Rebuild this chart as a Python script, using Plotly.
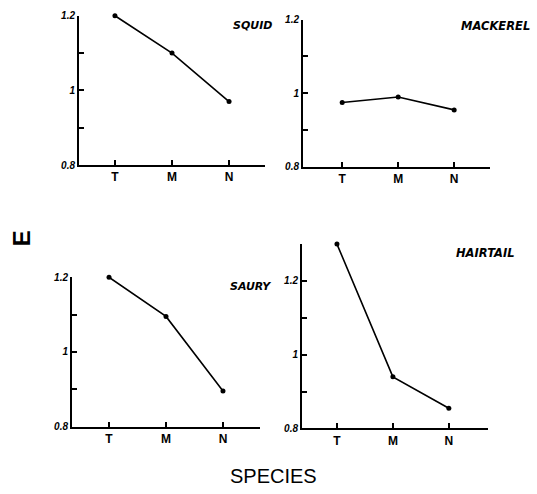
import plotly.graph_objects as go

# Relative values per fishing ground, four species
categories = ["T", "M", "N"]
squid = [1.20, 1.10, 0.97]
mackerel = [0.975, 0.99, 0.955]
saury = [1.20, 1.095, 0.895]
hairtail = [1.30, 0.94, 0.855]

species_names = ["SQUID", "MACKEREL", "SAURY", "HAIRTAIL"]
series = [squid, mackerel, saury, hairtail]

W, H = 537, 494

# panel geometry in pixels: (x_left, x_right, y_top, y_bottom, xrange, yrange)
panels = [
    (79, 265, 10, 163, [-0.63, 2.63], [0.8, 1.2]),
    (303, 490, 14, 165, [-0.70, 2.64], [0.8, 1.2]),
    (72, 260, 278, 431, [-0.65, 2.65], [0.8, 1.2]),
    (302, 488, 244, 433, [-0.625, 2.70], [0.8, 1.3]),
]

label_font = dict(family="Liberation Sans, Arial, sans-serif", color="black")
name_font = dict(family="DejaVu Sans, sans-serif", color="black")

fig = go.Figure()
layout = dict(
    width=W, height=H,
    margin=dict(l=0, r=0, t=0, b=0),
    paper_bgcolor="white", plot_bgcolor="white",
    showlegend=False,
)

for i, (vals, (xl, xr, yt, yb, xrng, yrng)) in enumerate(zip(series, panels), start=1):
    xs = "x" if i == 1 else f"x{i}"
    ys = "y" if i == 1 else f"y{i}"
    fig.add_trace(go.Scatter(
        x=list(range(len(categories))), y=vals, xaxis=xs, yaxis=ys,
        mode="lines+markers", cliponaxis=False,
        line=dict(color="black", width=1.6),
        marker=dict(color="black", size=5),
    ))
    ytv = [0.8, 0.9, 1.0, 1.1, 1.2]
    ytt = ["0.8", "", "1", "", "1.2"]
    if yrng[1] > 1.25:
        ytv.append(1.3)
        ytt.append("")
    layout["xaxis" if i == 1 else f"xaxis{i}"] = dict(
        domain=[xl / W, xr / W], anchor=ys, range=xrng,
        tickmode="array", tickvals=list(range(len(categories))), ticktext=categories,
        ticks="inside", ticklen=5, tickwidth=1.5, tickcolor="black",
        showline=True, linecolor="black", linewidth=2,
        showgrid=False, zeroline=False,
        tickfont=dict(size=12, weight="bold", **label_font),
    )
    layout["yaxis" if i == 1 else f"yaxis{i}"] = dict(
        domain=[1 - yb / H, 1 - yt / H], anchor=xs, range=yrng,
        tickmode="array", tickvals=ytv, ticktext=ytt,
        ticks="inside", ticklen=5, tickwidth=1.5, tickcolor="black",
        showline=True, linecolor="black", linewidth=2,
        showgrid=False, zeroline=False,
        tickfont=dict(size=10, weight="bold", style="italic", **label_font),
    )

fig.update_layout(**layout)

# species labels
name_pos = [(252, 20, 11), (495, 21, 11.5), (250, 287, 11), (485, 253, 11.5)]
for name, (px, py, sz) in zip(species_names, name_pos):
    fig.add_annotation(
        x=px / W, y=1 - py / H, xref="paper", yref="paper",
        xanchor="center", yanchor="middle",
        text=name, showarrow=False,
        font=dict(size=sz, weight="bold", style="italic", **name_font),
    )

# shared axis titles
fig.add_annotation(
    x=21 / W, y=1 - 238 / H, xref="paper", yref="paper",
    xanchor="center", yanchor="middle",
    text="E", textangle=-90, showarrow=False,
    font=dict(size=24, weight="bold", **label_font),
)
fig.add_annotation(
    x=273 / W, y=1 - 482 / H, xref="paper", yref="paper",
    xanchor="center", yanchor="middle",
    text="SPECIES", showarrow=False,
    font=dict(size=20, **label_font),
)

fig.write_html("out.html")
